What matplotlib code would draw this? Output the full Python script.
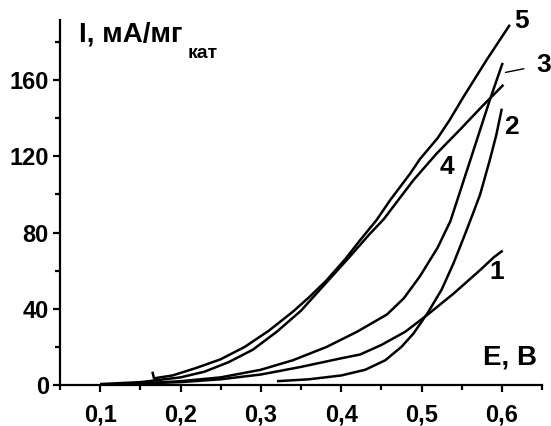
import matplotlib
matplotlib.use('Agg')
import matplotlib.pyplot as plt
from matplotlib.ticker import FixedLocator

plt.rcParams['font.family'] = ['Liberation Sans', 'DejaVu Sans']
plt.rcParams['font.weight'] = 'bold'

# curve 1
e1 = [0.1, 0.15, 0.2, 0.25, 0.3, 0.35, 0.4, 0.4236, 0.45, 0.48, 0.507, 0.54, 0.573, 0.59, 0.601]
i1 = [0.0, 0.8, 1.5, 3.0, 5.5, 9.5, 14.0, 16.0, 21.0, 28.0, 36.7, 48.0, 60.3, 67.0, 70.5]

# curve 2
e2 = [0.32, 0.36, 0.4, 0.43, 0.455, 0.475, 0.49, 0.508, 0.525, 0.54, 0.555, 0.565, 0.573, 0.585, 0.593, 0.6]
i2 = [2.0, 3.0, 5.0, 8.0, 13.0, 20.0, 27.0, 38.0, 50.0, 64.0, 80.0, 91.0, 100.0, 118.0, 131.0, 145.0]

# curve 3
e3 = [0.1, 0.15, 0.2, 0.25, 0.3, 0.34, 0.382, 0.42, 0.457, 0.478, 0.498, 0.52, 0.536, 0.56, 0.585, 0.601]
i3 = [0.0, 0.8, 2.0, 4.0, 8.0, 13.0, 20.0, 28.0, 37.0, 45.5, 57.0, 72.0, 86.0, 117.0, 149.5, 169.0]

# curve 4
e4 = [0.1, 0.15, 0.2, 0.23, 0.26, 0.29, 0.32, 0.35, 0.38, 0.41, 0.435, 0.453, 0.471, 0.49,
      0.519, 0.548, 0.575, 0.602]
i4 = [0.5, 1.5, 4.0, 7.0, 12.0, 18.5, 28.0, 39.0, 53.0, 67.0, 79.0, 87.0, 97.0, 107.5,
      121.5, 134.0, 146.0, 157.5]

# curve 5
e5 = [0.165, 0.167, 0.19, 0.22, 0.25, 0.28, 0.31, 0.34, 0.36, 0.382, 0.405, 0.4236, 0.444,
      0.461, 0.486, 0.498, 0.507, 0.52, 0.535, 0.552, 0.581, 0.61]
i5 = [7.0, 3.5, 5.0, 9.0, 13.5, 20.0, 28.5, 38.5, 46.0, 55.0, 66.0, 76.0, 86.5,
      97.0, 111.0, 118.5, 123.0, 129.5, 139.0, 151.0, 170.5, 189.0]

x_ticks = [0.1, 0.2, 0.3, 0.4, 0.5, 0.6]
x_labels = ['0,1', '0,2', '0,3', '0,4', '0,5', '0,6']
x_minor = [0.05, 0.15, 0.25, 0.35, 0.45, 0.55, 0.65]
y_ticks = [0, 40, 80, 120, 160]
y_minor = [20, 60, 100, 140, 180]

W, H = 551, 426
fig = plt.figure(figsize=(W / 100, H / 100), dpi=100)
ax = fig.add_axes([60 / W, 41 / H, 482 / W, 365 / H])

for e, i in [(e1, i1), (e2, i2), (e3, i3), (e4, i4), (e5, i5)]:
    ax.plot(e, i, 'k-', lw=1.8, solid_joinstyle='round', solid_capstyle='butt')

ax.set_xlim(0.05, 0.65)
ax.set_ylim(0, 191.5)
ax.spines['top'].set_visible(False)
ax.spines['right'].set_visible(False)
for s in ('left', 'bottom'):
    ax.spines[s].set_linewidth(1.6)

ax.xaxis.set_major_locator(FixedLocator(x_ticks))
ax.set_xticklabels(x_labels)
ax.xaxis.set_minor_locator(FixedLocator(x_minor))
ax.yaxis.set_major_locator(FixedLocator(y_ticks))
ax.yaxis.set_minor_locator(FixedLocator(y_minor))
ax.tick_params(which='major', direction='out', length=5, width=1.6, labelsize=17)
ax.tick_params(which='minor', direction='out', length=3.3, width=1.6)
ax.tick_params(axis='x', which='major', pad=8)
ax.tick_params(axis='y', which='major', pad=3)
for lab in ax.get_xticklabels() + ax.get_yticklabels():
    lab.set_fontweight('bold')

fs = 19
ax.text(0.594, 59.3, '1', fontsize=fs, ha='center', va='center')
ax.text(0.612, 135.4, '2', fontsize=fs, ha='center', va='center')
ax.text(0.532, 114.4, '4', fontsize=fs, ha='center', va='center')
ax.text(0.624, 191, '5', fontsize=fs, ha='center', va='center', clip_on=False)
ax.annotate('3', xy=(0.6045, 164), xytext=(0.652, 168), fontsize=fs,
            ha='center', va='center', annotation_clip=False,
            arrowprops=dict(arrowstyle='-', lw=1, color='k', shrinkA=7, shrinkB=0))

ax.text(0.6105, 14.5, 'E, B', fontsize=20, ha='center', va='center')

fig.text(79 / W, (H - 42) / H, 'I, мА/мг', fontsize=20, ha='left', va='baseline')
fig.text(188 / W, (H - 58) / H, 'кат', fontsize=14, ha='left', va='baseline')

fig.savefig('out.png', dpi=100)
